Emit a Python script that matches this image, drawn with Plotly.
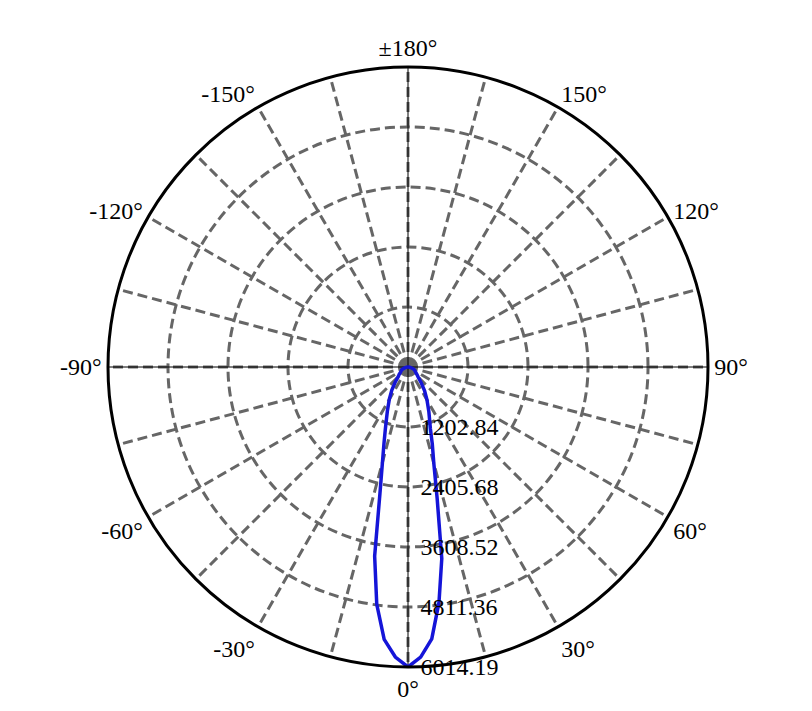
import plotly.graph_objects as go

# Luminous intensity distribution (cd)
angles = [-90, -85, -80, -75, -70, -65, -60, -55, -50, -45, -40, -35, -30, -25,
          -20, -17.5, -15, -12.5, -10, -7.5, -5, -2.5, 0, 2.5, 5, 7.5, 10, 12.5,
          15, 17.5, 20, 25, 30, 35, 40, 45, 50, 55, 60, 65, 70, 75, 80, 85, 90]
intensity = [0, 15, 40, 70, 110, 140, 160, 185, 230, 280, 400, 565, 750, 980,
             1330, 1600, 1980, 2600, 3850, 4800, 5480, 5820, 6014.19, 5820, 5470,
             4760, 3900, 2700, 2000, 1620, 1310, 990, 760, 580, 410, 290, 235,
             190, 165, 145, 115, 75, 45, 18, 0]

r_ticks = [1202.84, 2405.68, 3608.52, 4811.36, 6014.19]
r_max = r_ticks[-1]

theta_ticks = list(range(0, 360, 15))
theta_labels = {0: "0°", 30: "30°", 60: "60°", 90: "90°", 120: "120°",
                150: "150°", 180: "±180°", 210: "-150°", 240: "-120°",
                270: "-90°", 300: "-60°", 330: "-30°"}
theta_text = [theta_labels.get(t, "") for t in theta_ticks]

font = dict(family="Liberation Serif", size=24, color="black")
grid_dash = "10px,5px"

fig = go.Figure()

# thin black axis diameters under the curve
for pair in ([0, 180], [90, 270]):
    fig.add_trace(go.Scatterpolar(
        theta=pair, r=[r_max, r_max], mode="lines",
        line=dict(color="black", width=1), hoverinfo="skip"))

fig.add_trace(go.Scatterpolar(
    theta=angles + [angles[0]],
    r=intensity + [intensity[0]],
    mode="lines",
    line=dict(color="#1515d8", width=3.5),
    name="C0-C180",
))

fig.update_layout(
    width=812, height=711,
    paper_bgcolor="white",
    showlegend=False,
    margin=dict(l=99, r=111, t=59, b=52),
    font=font,
    polar=dict(
        bgcolor="white",
        angularaxis=dict(
            rotation=-90,
            direction="counterclockwise",
            tickmode="array",
            tickvals=theta_ticks,
            ticktext=theta_text,
            ticks="",
            showgrid=True,
            gridcolor="#666666",
            gridwidth=3,
            griddash=grid_dash,
            showline=True,
            linecolor="black",
            linewidth=3,
            tickfont=font,
        ),
        radialaxis=dict(
            range=[0, r_max],
            tickmode="array",
            tickvals=r_ticks,
            ticktext=["&nbsp;&nbsp;" + f"{v:.2f}" for v in r_ticks],
            angle=-90,
            tickangle=-90,
            side="counterclockwise",
            ticks="",
            showline=False,
            showgrid=True,
            gridcolor="#666666",
            gridwidth=3,
            griddash=grid_dash,
            tickfont=font,
        ),
    ),
)

fig.write_html("out.html")
